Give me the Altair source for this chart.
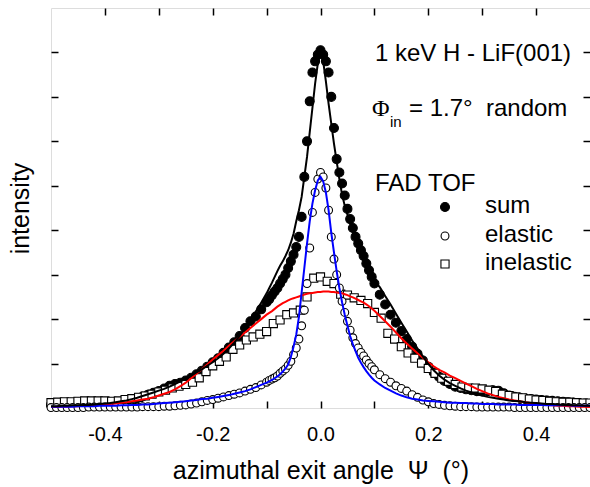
import altair as alt
import pandas as pd

# ---------------- data ----------------
grid_left = [-0.50, -0.49, -0.48, -0.47, -0.46, -0.45, -0.44, -0.43, -0.42, -0.41,
             -0.40, -0.39, -0.38, -0.37, -0.36, -0.35, -0.34, -0.33, -0.32, -0.31,
             -0.30, -0.29, -0.28, -0.27, -0.26, -0.25, -0.24, -0.23, -0.22, -0.21,
             -0.20, -0.19, -0.18, -0.17, -0.16, -0.15, -0.14, -0.13, -0.12, -0.11]
grid_mid = [-0.100, -0.095, -0.090, -0.085, -0.080, -0.075, -0.070, -0.065, -0.060, -0.055,
            -0.050, -0.045, -0.040, -0.035, -0.030, -0.025, -0.020, -0.015, -0.010, -0.005,
            0.000,
            0.005, 0.010, 0.015, 0.020, 0.025, 0.030, 0.035, 0.040, 0.045, 0.050,
            0.055, 0.060, 0.065, 0.070, 0.075, 0.080, 0.085, 0.090, 0.095, 0.100]
grid_right = [0.11, 0.12, 0.13, 0.14, 0.15, 0.16, 0.17, 0.18, 0.19, 0.20,
              0.21, 0.22, 0.23, 0.24, 0.25, 0.26, 0.27, 0.28, 0.29, 0.30,
              0.31, 0.32, 0.33, 0.34, 0.35, 0.36, 0.37, 0.38, 0.39, 0.40,
              0.41, 0.42, 0.43, 0.44, 0.45, 0.46, 0.47, 0.48, 0.49, 0.50]

# FAD TOF "sum" (filled circles)
sum_left = [0.07, 0.08, 0.09, 0.10, 0.11, 0.12, 0.13, 0.14, 0.13, 0.12,
            0.12, 0.12, 0.13, 0.14, 0.16, 0.18, 0.22, 0.26, 0.30, 0.34,
            0.38, 0.44, 0.50, 0.54, 0.57, 0.62, 0.68, 0.76, 0.84, 0.93,
            1.03, 1.12, 1.24, 1.36, 1.48, 1.62, 1.80, 1.95, 2.06, 2.22]
sum_mid = [2.38, 2.45, 2.54, 2.62, 2.70, 2.80, 2.90, 3.00, 3.15, 3.30,
           3.45, 3.62, 3.85, 4.30, 5.20, 6.00, 6.90, 7.55, 7.80, 7.95,
           8.05,
           7.95, 7.80, 7.55, 7.00, 6.30, 5.60, 5.30, 5.05, 4.78, 4.48,
           4.25, 4.05, 3.85, 3.70, 3.55, 3.42, 3.25, 3.10, 2.95, 2.80]
sum_right = [2.55, 2.33, 2.10, 1.92, 1.73, 1.55, 1.38, 1.22, 1.07, 0.93,
             0.80, 0.70, 0.61, 0.54, 0.48, 0.45, 0.42, 0.40, 0.38, 0.37,
             0.38, 0.40, 0.39, 0.33, 0.28, 0.25, 0.23, 0.21, 0.20, 0.19,
             0.18, 0.17, 0.16, 0.15, 0.14, 0.13, 0.12, 0.11, 0.10, 0.09]

# "elastic" (open circles)
el_left = [0.01, 0.01, 0.01, 0.01, 0.01, 0.01, 0.01, 0.02, 0.02, 0.02,
           0.02, 0.02, 0.02, 0.02, 0.02, 0.02, 0.02, 0.03, 0.03, 0.03,
           0.03, 0.04, 0.04, 0.05, 0.06, 0.07, 0.09, 0.11, 0.14, 0.17,
           0.19, 0.22, 0.25, 0.28, 0.31, 0.34, 0.38, 0.42, 0.46, 0.52]
el_mid = [0.58, 0.62, 0.65, 0.68, 0.72, 0.78, 0.83, 0.88, 0.96, 1.05,
          1.20, 1.35, 1.55, 1.85, 2.20, 2.80, 3.60, 4.40, 4.85, 5.15,
          5.30,
          5.20, 4.95, 4.45, 3.85, 3.35, 3.00, 2.70, 2.40, 2.15, 1.95,
          1.75, 1.58, 1.45, 1.35, 1.25, 1.17, 1.08, 1.00, 0.93, 0.86]
el_right = [0.75, 0.66, 0.58, 0.50, 0.44, 0.38, 0.30, 0.24, 0.18, 0.14,
            0.10, 0.08, 0.06, 0.05, 0.04, 0.03, 0.03, 0.03, 0.02, 0.02,
            0.02, 0.02, 0.02, 0.02, 0.02, 0.01, 0.01, 0.01, 0.01, 0.01,
            0.01, 0.01, 0.01, 0.01, 0.01, 0.01, 0.01, 0.01, 0.01, 0.01]

# "inelastic" (open squares)
inel_x = [-0.5000, -0.4875, -0.4750, -0.4625, -0.4500, -0.4375, -0.4250, -0.4125, -0.4000,
          -0.3875, -0.3750, -0.3625, -0.3500, -0.3375, -0.3250, -0.3125, -0.3000,
          -0.2875, -0.2750, -0.2625, -0.2500, -0.2375, -0.2250, -0.2125, -0.2000,
          -0.1875, -0.1750, -0.1625, -0.1500, -0.1375, -0.1250, -0.1125, -0.1000,
          -0.0875, -0.0750, -0.0625, -0.0500, -0.0375, -0.0250, -0.0125, 0.0000,
          0.0125, 0.0250, 0.0375, 0.0500, 0.0625, 0.0750, 0.0875, 0.1000,
          0.1125, 0.1250, 0.1375, 0.1500, 0.1625, 0.1750, 0.1875, 0.2000,
          0.2125, 0.2250, 0.2375, 0.2500, 0.2625, 0.2750, 0.2875, 0.3000,
          0.3125, 0.3250, 0.3375, 0.3500, 0.3625, 0.3750, 0.3875, 0.4000,
          0.4125, 0.4250, 0.4375, 0.4500, 0.4625, 0.4750, 0.4875, 0.5000]
inel_y = [0.12, 0.13, 0.14, 0.14, 0.15, 0.16, 0.16, 0.16, 0.16,
          0.15, 0.16, 0.19, 0.21, 0.24, 0.27, 0.31, 0.36,
          0.40, 0.45, 0.49, 0.53, 0.58, 0.68, 0.82, 0.95,
          1.05, 1.15, 1.32, 1.42, 1.53, 1.60, 1.66, 1.72,
          1.90, 1.98, 2.10, 2.14, 2.20, 2.50, 2.92, 2.95,
          2.85, 2.80, 2.56, 2.54, 2.48, 2.42, 2.35, 2.15,
          2.02, 1.68, 1.55, 1.38, 1.24, 1.12, 1.01, 0.89,
          0.78, 0.67, 0.60, 0.53, 0.47, 0.45, 0.45, 0.43,
          0.40, 0.37, 0.31, 0.28, 0.25, 0.23, 0.20, 0.18,
          0.17, 0.15, 0.14, 0.13, 0.13, 0.12, 0.11, 0.11]

# fitted curves
fit_sum_left = [0.04, 0.04, 0.05, 0.05, 0.06, 0.06, 0.07, 0.07, 0.08, 0.09,
                0.10, 0.11, 0.13, 0.15, 0.17, 0.20, 0.23, 0.27, 0.31, 0.35,
                0.39, 0.43, 0.48, 0.54, 0.60, 0.66, 0.73, 0.80, 0.87, 0.95,
                1.03, 1.12, 1.22, 1.34, 1.47, 1.62, 1.80, 1.98, 2.17, 2.37]
fit_sum_mid = [2.58, 2.70, 2.82, 2.95, 3.08, 3.20, 3.30, 3.42, 3.55, 3.72,
               3.92, 4.20, 4.45, 4.75, 5.20, 5.65, 6.20, 6.75, 7.30, 7.75,
               8.00,
               7.80, 7.35, 6.85, 6.40, 5.95, 5.55, 5.15, 4.80, 4.55, 4.35,
               4.15, 3.95, 3.75, 3.55, 3.42, 3.30, 3.20, 3.08, 2.96, 2.85]
fit_sum_right = [2.72, 2.52, 2.33, 2.12, 1.92, 1.72, 1.52, 1.34, 1.16, 0.99,
                 0.85, 0.73, 0.64, 0.56, 0.50, 0.44, 0.39, 0.35, 0.31, 0.28,
                 0.25, 0.23, 0.21, 0.19, 0.17, 0.16, 0.15, 0.13, 0.12, 0.11,
                 0.10, 0.09, 0.09, 0.08, 0.07, 0.07, 0.06, 0.06, 0.05, 0.05]

fit_el_left = [0.03, 0.03, 0.03, 0.03, 0.03, 0.04, 0.04, 0.04, 0.04, 0.05,
               0.05, 0.05, 0.05, 0.06, 0.06, 0.07, 0.07, 0.08, 0.08, 0.09,
               0.10, 0.11, 0.12, 0.13, 0.14, 0.15, 0.17, 0.18, 0.20, 0.21,
               0.23, 0.25, 0.27, 0.29, 0.32, 0.35, 0.38, 0.42, 0.47, 0.52]
fit_el_mid = [0.57, 0.60, 0.63, 0.67, 0.71, 0.76, 0.82, 0.89, 0.98, 1.15,
              1.38, 1.65, 2.05, 2.60, 3.15, 3.70, 4.20, 4.60, 4.90, 5.12,
              5.20,
              5.10, 4.85, 4.45, 3.94, 3.50, 3.08, 2.70, 2.38, 2.10, 1.85,
              1.62, 1.44, 1.28, 1.13, 1.02, 0.92, 0.83, 0.75, 0.68, 0.62]
fit_el_right = [0.53, 0.45, 0.39, 0.33, 0.28, 0.24, 0.21, 0.19, 0.17, 0.16,
                0.15, 0.14, 0.13, 0.12, 0.12, 0.11, 0.11, 0.10, 0.10, 0.09,
                0.09, 0.09, 0.08, 0.08, 0.08, 0.08, 0.07, 0.07, 0.07, 0.07,
                0.07, 0.06, 0.06, 0.06, 0.06, 0.06, 0.05, 0.05, 0.05, 0.05]

fit_inel_left = [0.02, 0.02, 0.03, 0.03, 0.04, 0.04, 0.05, 0.05, 0.06, 0.07,
                 0.08, 0.09, 0.10, 0.12, 0.13, 0.15, 0.17, 0.19, 0.21, 0.24,
                 0.28, 0.32, 0.36, 0.42, 0.49, 0.57, 0.67, 0.77, 0.87, 0.98,
                 1.09, 1.19, 1.29, 1.40, 1.50, 1.60, 1.70, 1.80, 1.90, 2.00]
fit_inel_mid = [2.10, 2.14, 2.18, 2.23, 2.28, 2.32, 2.36, 2.39, 2.42, 2.45,
                2.47, 2.49, 2.51, 2.53, 2.55, 2.57, 2.58, 2.59, 2.60, 2.61,
                2.61,
                2.62, 2.62, 2.62, 2.61, 2.61, 2.60, 2.59, 2.58, 2.56, 2.54,
                2.51, 2.49, 2.46, 2.43, 2.40, 2.37, 2.33, 2.29, 2.24, 2.19]
fit_inel_right = [2.07, 1.95, 1.83, 1.70, 1.57, 1.45, 1.34, 1.23, 1.13, 1.03,
                  0.94, 0.86, 0.80, 0.73, 0.67, 0.61, 0.55, 0.49, 0.43, 0.38,
                  0.33, 0.29, 0.25, 0.22, 0.19, 0.17, 0.15, 0.13, 0.11, 0.10,
                  0.09, 0.07, 0.06, 0.05, 0.05, 0.04, 0.04, 0.03, 0.03, 0.02]

series_names = ["sum", "elastic", "inelastic"]
x_tick_labels = [-0.4, -0.2, 0.0, 0.2, 0.4]
x_minor_ticks = [-0.4, -0.3, -0.2, -0.1, 0.0, 0.1, 0.2, 0.3, 0.4]
y_ticks = [1, 2, 3, 4, 5, 6, 7, 8]
notes = ["1 keV H - LiF(001)", "\u03a6", "in", "= 1.7\u00b0\u00a0\u00a0random", "FAD  TOF"]

# ---------------- tables ----------------
grid = grid_left + grid_mid + grid_right
pts = pd.concat([
    pd.DataFrame({"x": grid, "y": sum_left + sum_mid + sum_right, "series": "sum"}),
    pd.DataFrame({"x": inel_x, "y": inel_y, "series": "inelastic"}),
    pd.DataFrame({"x": grid, "y": el_left + el_mid + el_right, "series": "elastic"}),
], ignore_index=True)
fits = pd.DataFrame({
    "x": grid,
    "sum": fit_sum_left + fit_sum_mid + fit_sum_right,
    "elastic": fit_el_left + fit_el_mid + fit_el_right,
    "inelastic": fit_inel_left + fit_inel_mid + fit_inel_right,
})

FONT = "Liberation Sans"
W, H = 539, 400
xs = alt.Scale(domain=[-0.5, 0.5], nice=False, zero=False)
ys = alt.Scale(domain=[0, 9], nice=False, zero=False)

shapes = ["circle", "circle", "square"]
fills = ["black", "white", "white"]
sizes = [80, 62, 66]

tick_common = dict(labels=False, domain=False, grid=False, ticks=True, tickSize=7,
                   tickWidth=1.5, tickColor="black", title=None)

points = alt.Chart(pts).mark_point(filled=True, stroke="black", strokeWidth=1.1, opacity=1).encode(
    x=alt.X("x:Q", scale=xs, axis=alt.Axis(
        orient="bottom", values=x_tick_labels, ticks=False, tickSize=0, domain=False, grid=False,
        labelExpr="(datum.value < 0 ? '-' : '') + format(abs(datum.value), '.1f')",
        labelFontSize=20, labelFont=FONT, labelColor="black", labelPadding=16,
        title="azimuthal exit angle\u00a0\u00a0\u03a8\u00a0\u00a0(\u00b0)", titleFont=FONT,
        titleFontSize=25, titleFontWeight="normal", titleColor="black", titlePadding=14)),
    y=alt.Y("y:Q", scale=ys, axis=alt.Axis(
        orient="left", labels=False, ticks=False, domain=False, grid=False,
        title="intensity", titleFont=FONT, titleFontSize=25, titleFontWeight="normal",
        titleColor="black", titlePadding=18)),
    shape=alt.Shape("series:N", scale=alt.Scale(domain=series_names, range=shapes), legend=None),
    fill=alt.Fill("series:N", scale=alt.Scale(domain=series_names, range=fills), legend=None),
    size=alt.Size("series:N", scale=alt.Scale(type="ordinal", domain=series_names, range=sizes),
                  legend=None),
)

line_sum = alt.Chart(fits).mark_line(color="black", strokeWidth=2).encode(
    x=alt.X("x:Q", scale=xs, axis=alt.Axis(orient="top", offset=-H, values=x_minor_ticks, **tick_common)),
    y=alt.Y("sum:Q", scale=ys, axis=alt.Axis(orient="right", offset=-W, values=y_ticks, **tick_common)),
)
line_el = alt.Chart(fits).mark_line(color="#0000ff", strokeWidth=2).encode(
    x=alt.X("x:Q", scale=xs, axis=alt.Axis(orient="bottom", offset=-H, values=x_minor_ticks, **tick_common)),
    y=alt.Y("elastic:Q", scale=ys, axis=alt.Axis(orient="left", offset=-W, values=y_ticks, **tick_common)),
)
line_inel = alt.Chart(fits).mark_line(color="#ff0000", strokeWidth=2).encode(
    x=alt.X("x:Q", scale=xs, axis=None),
    y=alt.Y("inelastic:Q", scale=ys, axis=None),
)

note_df = pd.DataFrame({"t": notes})


def note(i, px, py, size, font=FONT):
    return alt.Chart(note_df).transform_filter(alt.datum.t == notes[i]).mark_text(
        align="left", baseline="alphabetic", font=font, fontSize=size, color="black"
    ).encode(text="t:N", x=alt.value(px), y=alt.value(py))


texts = [
    note(0, 324, 53, 24),
    note(1, 321, 108, 24, "Liberation Serif"),
    note(2, 339, 119, 15),
    note(3, 358, 108, 24),
    note(4, 324, 183, 24),
]

# legend (symbols + labels) drawn as marks
leg_df = pd.DataFrame({"series": series_names})
leg_rows = [199, 228, 256]
legend_layers = []
for i, name in enumerate(series_names):
    legend_layers.append(
        alt.Chart(leg_df).transform_filter(alt.datum.series == name).mark_point(
            shape=shapes[i], filled=True, fill=fills[i], stroke="black", strokeWidth=1.1,
            size=sizes[i], opacity=1
        ).encode(x=alt.value(394), y=alt.value(leg_rows[i]))
    )
    legend_layers.append(
        alt.Chart(leg_df).transform_filter(alt.datum.series == name).mark_text(
            align="left", baseline="middle", font=FONT, fontSize=24, color="black"
        ).encode(text="series:N", x=alt.value(434), y=alt.value(leg_rows[i] - 1))
    )

chart = alt.layer(points, line_inel, line_el, line_sum, *texts, *legend_layers).resolve_axis(
    x="independent", y="independent"
).properties(
    width=W, height=H,
    autosize=alt.AutoSizeParams(type="none"),
    padding={"left": 51, "top": 8, "right": 0, "bottom": 79},
).configure_view(stroke="black", strokeWidth=2).configure(background="white")

chart.save("out.html", embed_options={"renderer": "svg", "actions": False})
